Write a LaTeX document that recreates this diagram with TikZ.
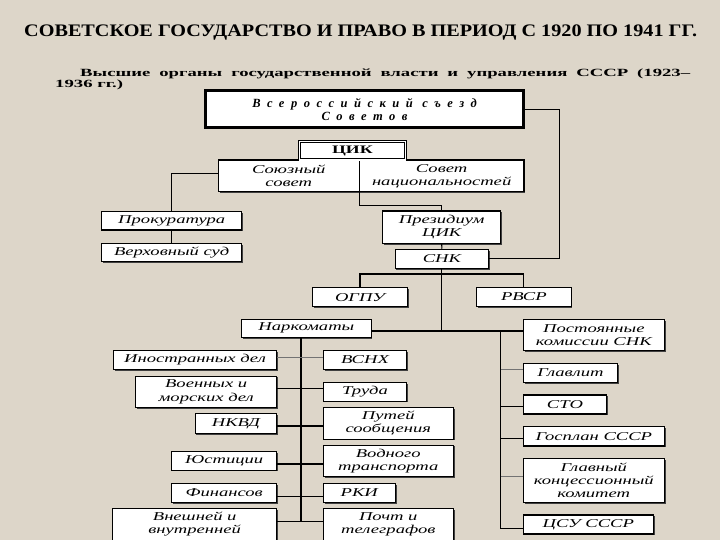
\documentclass[tikz,border=0pt]{standalone}
\usepackage{fontspec}
\setmainfont{Liberation Serif}
\newfontfamily\bxfont[FakeStretch=1.55]{Liberation Serif}
\newfontfamily\topfont[LetterSpace=52]{Liberation Serif}
\newfontfamily\subfont[FakeStretch=1.7]{Liberation Serif}
\usetikzlibrary{shadows}
\definecolor{bgc}{RGB}{221,214,201}
\tikzset{
  box/.style={draw=black, line width=1.1pt, fill=white, inner sep=0pt, align=center,
    font=\bxfont\itshape\fontsize{12}{13.3}\selectfont,
    drop shadow={shadow xshift=1.3pt, shadow yshift=-1.3pt, opacity=1, fill=black!75}},
  sz/.style 2 args={minimum width=#1pt, minimum height=#2pt},
  conn/.style={draw=black, line width=1.1pt},
  lconn/.style={draw=black!55, line width=1pt}}
\begin{document}
\begin{tikzpicture}[x=1pt,y=-1pt]
\fill[bgc] (0,0) rectangle (720,540);
\useasboundingbox (0,0) rectangle (720,540);

% titles
\node[anchor=base west, inner sep=0pt] (title) at (24,36.7)
  {\resizebox{673pt}{11.7pt}{\bfseries СОВЕТСКОЕ ГОСУДАРСТВО И ПРАВО В ПЕРИОД С 1920 ПО 1941 ГГ.}};
\node[anchor=base west, inner sep=0pt] (sub1) at (80,76.7)
  {\subfont\bfseries\fontsize{11}{12}\selectfont\makebox[610pt][s]{Высшие органы государственной власти и управления СССР (1923–}};
\node[anchor=base west, inner sep=0pt] (sub2) at (55,87.3)
  {\subfont\bfseries\fontsize{11}{12}\selectfont 1936 гг.)};

% top
\node[box, sz={318}{37}, line width=3pt,
  drop shadow={shadow xshift=1.5pt, shadow yshift=-1.5pt, opacity=1, fill=black!50},
  font=\topfont\bfseries\itshape\fontsize{12.5}{12.8}\selectfont] (vs) at (364.5,109.5)
  {Всероссийский съезд\\Советов};
\node[box, sz={141}{31.7}] (sovs) at (288.8,175.9) {Союзный\\совет};
\node[box, sz={164.7}{31.7}] (sovn) at (441.65,175.9) {Совет\\национальностей};
\node[box, sz={106.2}{18.3}, double, double distance=1.2pt, line width=0.9pt,
  font=\bxfont\bfseries\fontsize{11.5}{12}\selectfont] (cik) at (352.4,150.85) {ЦИК};
\node[box, sz={140}{18.3}] (prok) at (171.7,220.9) {Прокуратура};
\node[box, sz={140}{18.4}] (vsud) at (171.7,252.5) {Верховный суд};
\node[box, sz={118}{32.3}] (prez) at (441.7,227.2) {Президиум\\ЦИК};
\node[box, sz={93.7}{19}] (snk) at (441.9,258.8) {СНК};
\node[box, sz={94.5}{19}] (ogpu) at (360,297.2) {ОГПУ};
\node[box, sz={94.3}{19.4}] (rvsr) at (523.9,297) {РВСР};
\node[box, sz={129.3}{18}] (nark) at (306.4,328.3) {Наркоматы};
\node[box, sz={141}{31.4}] (post) at (593.8,335) {Постоянные\\комиссии СНК};

% left column
\node[box, sz={163.4}{18.6}] (inos) at (195,360) {Иностранных дел};
\node[box, sz={141}{31.3}] (voen) at (206.2,391.7) {Военных и\\морских дел};
\node[box, sz={81.7}{20}] (nkvd) at (235.9,423.3) {НКВД};
\node[box, sz={105}{18.3}] (yust) at (224.2,460.9) {Юстиции};
\node[box, sz={105}{19}] (fin) at (224.2,492.8) {Финансов};
\node[box, sz={164}{31.7}] (vnesh) at (194.7,524.2) {Внешней и\\внутренней};

% middle column
\node[box, sz={83.4}{18.6}] (vsnh) at (365,360) {ВСНХ};
\node[box, sz={83.4}{18.7}] (truda) at (365,391.7) {Труда};
\node[box, sz={130}{31.7}] (putei) at (388.3,423.2) {Путей\\сообщения};
\node[box, sz={130}{31.7}] (vodn) at (388.3,460.9) {Водного\\транспорта};
\node[box, sz={72}{19}] (rki) at (359.3,492.8) {РКИ};
\node[box, sz={130}{31.7}] (pocht) at (388.3,524.2) {Почт и\\телеграфов};

% right column
\node[box, sz={94.4}{19}] (glav) at (570.5,372.8) {Главлит};
\node[box, sz={83.4}{19}] (sto) at (565,404.5) {СТО};
\node[box, sz={141}{19.3}] (gosplan) at (593.8,436.3) {Госплан СССР};
\node[box, sz={141}{44}, font=\bxfont\itshape\fontsize{12}{12.8}\selectfont] (glavk) at (593.8,480.3) {Главный\\концессионный\\комитет};
\node[box, sz={130}{19}] (csu) at (588.3,524.5) {ЦСУ СССР};

\coordinate (lt) at (301,0);
\coordinate (rt) at (500.7,0);

% connectors
\draw[conn] (vs.east) -- ++(34.5,0) |- (snk.east);
\draw[conn] (sovs.west |- 0,173.3) -| (prok.north);
\draw[conn] (prok.south) -- (vsud.north);
\draw[conn] (sovs.south east) -- ++(0,13.3) -| (prez.north);
\draw[conn] (prez.south) -- (snk.north);
\draw[conn] (ogpu.north) |- (snk.south |- 0,274) -| (rvsr.north);
\draw[conn] (snk.south) -- (snk.south |- 0,331);
\draw[conn] (nark.east |- 0,331) -- (post.west |- 0,331);
\draw[conn] (nark.south -| lt) -- (lt |- 0,521.7);
\draw[lconn] (inos.east |- 0,357) -- (vsnh.west |- 0,357);
\draw[conn] (voen.east |- 0,388.3) -- (truda.west |- 0,388.3);
\draw[conn] (nkvd.east |- 0,426) -- (putei.west |- 0,426);
\draw[conn] (yust.east |- 0,464) -- (vodn.west |- 0,464);
\draw[conn] (fin.east |- 0,496.7) -- (rki.west |- 0,496.7);
\draw[conn] (vnesh.east |- 0,521.7) -- (pocht.west |- 0,521.7);
\draw[conn] (rt |- 0,331) -- (rt |- 0,528.3) -- (csu.west |- 0,528.3);
\draw[lconn] (rt |- 0,369.5) -- (glav.west |- 0,369.5);
\draw[conn] (rt |- 0,406.7) -- (sto.west |- 0,406.7);
\draw[conn] (rt |- 0,438.3) -- (gosplan.west |- 0,438.3);
\draw[lconn] (rt |- 0,476.7) -- (glavk.west |- 0,476.7);
\end{tikzpicture}
\end{document}
